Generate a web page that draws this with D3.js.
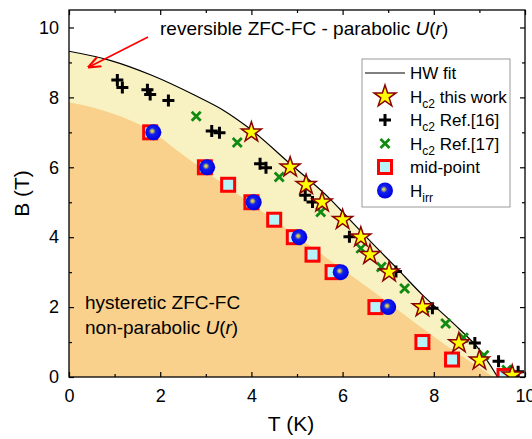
<!DOCTYPE html>
<html>
<head>
<meta charset="utf-8">
<script src="https://cdn.jsdelivr.net/npm/d3@7"></script>
<style>
  body { margin: 0; background: #fff; }
  svg { font-family: 'Liberation Sans', Arial, sans-serif; }
</style>
</head>
<body>
<div id="chart"></div>
<script>
// values, [T (K), B (T)]
const hwFit = [[0, 9.32], [0.9, 9.06], [1.8, 8.64], [2.76, 8.06], [3.4, 7.62], [3.97, 7.1], [4.85, 6.1],
  [5.75, 5.06], [5.94, 4.8], [6.82, 3.6], [7.16, 3.15], [7.75, 2.35], [8.36, 1.62], [8.57, 1.36],
  [9.0, 0.78], [9.4, 0]]
const irrEdge = [[0, 7.85], [0.5, 7.72], [1, 7.52], [1.5, 7.25], [2, 6.85], [2.43, 6.42], [3, 5.88],
  [4, 4.95], [5, 4.02], [6, 3.08], [6.82, 2.3], [7.5, 1.64], [8.5, 0.7], [9.16, 0.13], [9.3, 0]]
const hc2Work = [[4.0, 7.0], [4.85, 6.0], [5.2, 5.5], [5.55, 5.0], [6.0, 4.5], [6.4, 4.0], [6.6, 3.5],
  [7.02, 3.0], [7.75, 2.0], [8.55, 0.97], [9.0, 0.48], [9.72, 0.05]]
const hc2Ref16 = [[1.06, 8.5], [1.17, 8.28], [1.72, 8.22], [1.78, 8.08], [2.18, 7.91], [3.13, 7.04],
  [3.3, 6.99], [4.19, 6.1], [4.32, 5.99], [5.18, 5.2], [5.34, 5.01], [6.15, 4.01], [7.17, 3.02],
  [7.97, 1.97], [8.9, 0.97], [9.42, 0.45], [9.85, 0.15]]
const hc2Ref17 = [[2.79, 7.46], [3.69, 6.71], [4.61, 5.72], [5.52, 4.72], [6.4, 3.68], [6.85, 3.15],
  [7.36, 2.53], [7.79, 1.97], [8.26, 1.53], [8.65, 1.12], [9.1, 0.62], [9.6, 0.2]]
const midPoint = [[1.78, 7.0], [2.98, 6.0], [3.49, 5.5], [4.0, 5.0], [4.5, 4.5], [4.93, 4.0],
  [5.34, 3.5], [5.78, 3.0], [6.72, 2.0], [7.75, 1.0], [8.4, 0.5], [9.55, 0.03]]
const hIrr = [[1.85, 7.0], [3.03, 6.0], [4.05, 5.0], [5.05, 4.0], [5.96, 3.0], [7.0, 2.0]]

const xTicks = [0, 2, 4, 6, 8, 10]
const yTicks = [0, 2, 4, 6, 8, 10]
const xMinor = [1, 3, 5, 7, 9]
const yMinor = [1, 3, 5, 7, 9]
const legendItems = ['HW fit', 'Hc2 this work', 'Hc2 Ref.[16]', 'Hc2 Ref.[17]', 'mid-point', 'Hirr']

const width = 532
const height = 439
const margin = { top: 10, right: 7, bottom: 62, left: 69 }

const x = d3.scaleLinear().domain([0, 10]).range([margin.left, width - margin.right])
const y = d3.scaleLinear().domain([0, 10.5]).range([height - margin.bottom, margin.top])

const svg = d3.select('#chart').append('svg')
  .attr('width', width)
  .attr('height', height)

const defs = svg.append('defs')
const grad = defs.append('radialGradient')
  .attr('id', 'ball')
  .attr('cx', '0.45').attr('cy', '0.45').attr('r', '0.55')
  .attr('fx', '0.42').attr('fy', '0.42')
grad.append('stop').attr('offset', '0').attr('stop-color', '#f4f050')
grad.append('stop').attr('offset', '0.16').attr('stop-color', '#b8b060')
grad.append('stop').attr('offset', '0.38').attr('stop-color', '#1020f0')
grad.append('stop').attr('offset', '1').attr('stop-color', '#0000e0')
defs.append('marker')
  .attr('id', 'arrow')
  .attr('viewBox', '0 0 10 10')
  .attr('refX', 9).attr('refY', 5)
  .attr('markerWidth', 8).attr('markerHeight', 8)
  .attr('orient', 'auto')
  .append('path').attr('d', 'M0,1 L10,5 L0,9').attr('fill', 'none')
  .attr('stroke', '#f00').attr('stroke-width', 1.6)
defs.append('clipPath').attr('id', 'plot')
  .append('rect')
  .attr('x', margin.left).attr('y', margin.top)
  .attr('width', width - margin.left - margin.right)
  .attr('height', height - margin.top - margin.bottom)

const plot = svg.append('g').attr('clip-path', 'url(#plot)')

// shaded regions
const area = d3.area().x(d => x(d[0])).y0(y(0)).y1(d => y(d[1])).curve(d3.curveMonotoneX)
plot.append('path').datum(hwFit).attr('d', area).attr('fill', '#f8f2c2')
plot.append('path').datum(irrEdge).attr('d', area).attr('fill', '#f9d18c')

// HW fit line
const line = d3.line().x(d => x(d[0])).y(d => y(d[1])).curve(d3.curveMonotoneX)
plot.append('path').datum(hwFit).attr('d', line)
  .attr('fill', 'none').attr('stroke', '#000').attr('stroke-width', 1.2)

// axes
const inner = svg.append('g')
const plotW = width - margin.left - margin.right
const plotH = height - margin.top - margin.bottom

inner.append('g')
  .attr('transform', `translate(0,${y(0)})`)
  .call(d3.axisBottom(x).tickValues(xTicks).tickSize(-5).tickPadding(12).tickSizeOuter(0))
  .call(g => g.selectAll('text').attr('font-size', 18).attr('fill', '#000'))
inner.append('g')
  .attr('transform', `translate(0,${y(0)})`)
  .call(d3.axisBottom(x).tickValues(xMinor).tickSize(-3).tickFormat('').tickSizeOuter(0))
inner.append('g')
  .attr('transform', `translate(0,${margin.top})`)
  .call(d3.axisTop(x).tickValues(xTicks).tickSize(-5).tickFormat('').tickSizeOuter(0))
inner.append('g')
  .attr('transform', `translate(0,${margin.top})`)
  .call(d3.axisTop(x).tickValues(xMinor).tickSize(-3).tickFormat('').tickSizeOuter(0))

inner.append('g')
  .attr('transform', `translate(${margin.left},0)`)
  .call(d3.axisLeft(y).tickValues(yTicks).tickSize(-5).tickPadding(10).tickSizeOuter(0))
  .call(g => g.selectAll('text').attr('font-size', 18).attr('fill', '#000'))
inner.append('g')
  .attr('transform', `translate(${margin.left},0)`)
  .call(d3.axisLeft(y).tickValues(yMinor).tickSize(-3).tickFormat('').tickSizeOuter(0))
inner.append('g')
  .attr('transform', `translate(${width - margin.right},0)`)
  .call(d3.axisRight(y).tickValues(yTicks).tickSize(-5).tickFormat('').tickSizeOuter(0))
inner.append('g')
  .attr('transform', `translate(${width - margin.right},0)`)
  .call(d3.axisRight(y).tickValues(yMinor).tickSize(-3).tickFormat('').tickSizeOuter(0))
inner.selectAll('.domain').remove()
inner.selectAll('line').attr('stroke', '#000').attr('stroke-width', 1.2)

svg.append('rect')
  .attr('x', margin.left).attr('y', margin.top)
  .attr('width', plotW).attr('height', plotH)
  .attr('fill', 'none').attr('stroke', '#000').attr('stroke-width', 1.3)

// axis titles
svg.append('text')
  .attr('x', margin.left + plotW / 2 - 6).attr('y', 431)
  .attr('text-anchor', 'middle').attr('font-size', 21)
  .text('T (K)')
svg.append('text')
  .attr('transform', `translate(29,${margin.top + plotH / 2}) rotate(-90)`)
  .attr('text-anchor', 'middle').attr('font-size', 21)
  .text('B (T)')

// symbol makers
const sym = {
  star: (g, s) => g.append('path')
    .attr('d', d3.symbol(d3.symbolStar, s || 125)())
    .attr('fill', '#ffff00').attr('stroke', '#8b0000').attr('stroke-width', 1.5)
    .attr('stroke-linejoin', 'miter'),
  plus: g => g.append('path')
    .attr('d', 'M-6,0H6M0,-6V6')
    .attr('stroke', '#000').attr('stroke-width', 3).attr('fill', 'none'),
  cross: g => g.append('path')
    .attr('d', 'M-4.5,-4.5L4.5,4.5M-4.5,4.5L4.5,-4.5')
    .attr('stroke', '#108a10').attr('stroke-width', 2.8).attr('fill', 'none'),
  square: g => g.append('rect')
    .attr('x', -6.5).attr('y', -6.5).attr('width', 13).attr('height', 13)
    .attr('fill', '#b6f4fa').attr('stroke', '#ff0000').attr('stroke-width', 3),
  ball: g => g.append('circle').attr('r', 8).attr('fill', 'url(#ball)')
}

function drawSeries (data, kind) {
  plot.append('g').selectAll('g')
    .data(data).enter()
    .append('g')
    .attr('transform', d => `translate(${x(d[0])},${y(d[1])})`)
    .each(function () { sym[kind](d3.select(this)) })
}

drawSeries(hc2Ref17, 'cross')
drawSeries(hc2Ref16, 'plus')
drawSeries(midPoint, 'square')
drawSeries(hIrr, 'ball')
drawSeries(hc2Work, 'star')

// annotations
svg.append('text')
  .attr('x', 160).attr('y', 35).attr('font-size', 19)
  .call(t => {
    t.append('tspan').text('reversible ZFC-FC - parabolic ')
    t.append('tspan').attr('font-style', 'italic').text('U')
    t.append('tspan').text('(')
    t.append('tspan').attr('font-style', 'italic').text('r')
    t.append('tspan').text(')')
  })
svg.append('line')
  .attr('x1', 148).attr('y1', 37).attr('x2', 89).attr('y2', 67)
  .attr('stroke', '#f00').attr('stroke-width', 1.6)
  .attr('marker-end', 'url(#arrow)')

const hyst = svg.append('text').attr('font-size', 19)
hyst.append('tspan').attr('x', 85).attr('y', 309).text('hysteretic ZFC-FC')
const np = hyst.append('tspan').attr('x', 85).attr('y', 334)
np.append('tspan').text('non-parabolic ')
np.append('tspan').attr('font-style', 'italic').text('U')
np.append('tspan').text('(')
np.append('tspan').attr('font-style', 'italic').text('r')
np.append('tspan').text(')')

// legend
const legend = svg.append('g')
legend.append('rect')
  .attr('x', 362).attr('y', 59).attr('width', 148).attr('height', 148)
  .attr('fill', '#fff').attr('stroke', '#999').attr('stroke-width', 1)
const kinds = ['line', 'star', 'plus', 'cross', 'square', 'ball']
legendItems.forEach((label, i) => {
  const cy = 73 + i * 23.5
  const g = legend.append('g').attr('transform', `translate(385,${cy})`)
  if (kinds[i] === 'line') {
    g.append('line').attr('x1', -20).attr('x2', 20).attr('stroke', '#000').attr('stroke-width', 1.2)
  } else {
    sym[kinds[i]](g, 150)
  }
  const t = legend.append('text').attr('x', 410).attr('y', cy + 6).attr('font-size', 17)
  if (label.startsWith('Hc2')) {
    t.append('tspan').text('H')
    t.append('tspan').attr('font-size', 12).attr('dy', 5).text('c2')
    t.append('tspan').attr('dy', -5).text(label.slice(3))
  } else if (label === 'Hirr') {
    t.append('tspan').text('H')
    t.append('tspan').attr('font-size', 12).attr('dy', 5).text('irr')
  } else {
    t.text(label)
  }
})
</script>
</body>
</html>
